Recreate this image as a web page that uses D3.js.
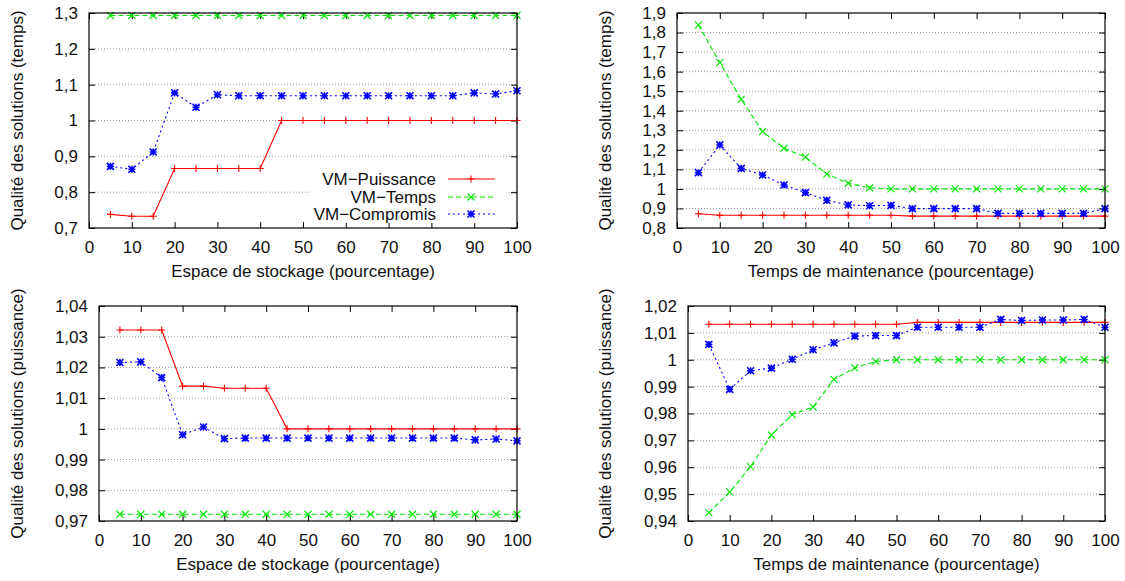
<!DOCTYPE html>
<html>
<head>
<meta charset="utf-8">
<script src="https://cdn.jsdelivr.net/npm/d3@7"></script>
<style>
  body { margin: 0; background: #fff; }
  svg { font-family: "Liberation Sans", Arial, sans-serif; }
  .tick text { fill: #111; }
  .grid line { stroke: #999; stroke-dasharray: 1,2; }
</style>
</head>
<body>
<svg id="chart" width="1125" height="581"></svg>
<script>
// x positions shared by all panels
const xValues = [5, 10, 15, 20, 25, 30, 35, 40, 45, 50, 55, 60, 65, 70, 75, 80, 85, 90, 95, 100];
const xTicks = [0, 10, 20, 30, 40, 50, 60, 70, 80, 90, 100];
const seriesNames = ["VM−Puissance", "VM−Temps", "VM−Compromis"];

// Panel 1: espace de stockage / temps
const storageTimeRed   = [0.738, 0.733, 0.733, 0.866, 0.866, 0.866, 0.866, 0.866, 1, 1, 1, 1, 1, 1, 1, 1, 1, 1, 1, 1];
const storageTimeGreen = [1.293, 1.293, 1.293, 1.293, 1.293, 1.293, 1.293, 1.293, 1.293, 1.293, 1.293, 1.293, 1.293, 1.293, 1.293, 1.293, 1.293, 1.293, 1.293, 1.293];
const storageTimeBlue  = [0.872, 0.864, 0.912, 1.077, 1.037, 1.072, 1.069, 1.069, 1.069, 1.069, 1.069, 1.069, 1.069, 1.069, 1.069, 1.069, 1.069, 1.077, 1.074, 1.083];
const storageTimeTicks = [0.7, 0.8, 0.9, 1.0, 1.1, 1.2, 1.3];

// Panel 2: temps de maintenance / temps
const maintTimeRed   = [0.873, 0.865, 0.865, 0.865, 0.865, 0.865, 0.865, 0.865, 0.865, 0.865, 0.861, 0.861, 0.861, 0.861, 0.861, 0.861, 0.861, 0.861, 0.861, 0.861];
const maintTimeGreen = [1.839, 1.646, 1.458, 1.293, 1.208, 1.163, 1.076, 1.029, 1.006, 1.0, 1.0, 1.0, 1.0, 1.0, 1.0, 1.0, 1.0, 1.0, 1.0, 1.0];
const maintTimeBlue  = [1.083, 1.225, 1.105, 1.071, 1.02, 0.981, 0.942, 0.918, 0.914, 0.916, 0.899, 0.899, 0.899, 0.899, 0.875, 0.875, 0.875, 0.875, 0.875, 0.899];
const maintTimeTicks = [0.8, 0.9, 1.0, 1.1, 1.2, 1.3, 1.4, 1.5, 1.6, 1.7, 1.8, 1.9];

// Panel 3: espace de stockage / puissance
const storagePowerRed   = [1.0322, 1.0322, 1.0322, 1.0139, 1.0139, 1.0132, 1.0132, 1.0132, 1, 1, 1, 1, 1, 1, 1, 1, 1, 1, 1, 1];
const storagePowerGreen = [0.9722, 0.9722, 0.9722, 0.9722, 0.9722, 0.9722, 0.9722, 0.9722, 0.9722, 0.9722, 0.9722, 0.9722, 0.9722, 0.9722, 0.9722, 0.9722, 0.9722, 0.9722, 0.9722, 0.9722];
const storagePowerBlue  = [1.0216, 1.0218, 1.0167, 0.9981, 1.0006, 0.9968, 0.997, 0.997, 0.997, 0.997, 0.997, 0.997, 0.997, 0.997, 0.997, 0.997, 0.997, 0.9964, 0.9967, 0.9961];
const storagePowerTicks = [0.97, 0.98, 0.99, 1.0, 1.01, 1.02, 1.03, 1.04];

// Panel 4: temps de maintenance / puissance
const maintPowerRed   = [1.0132, 1.0132, 1.0132, 1.0132, 1.0132, 1.0132, 1.0132, 1.0132, 1.0132, 1.0132, 1.0139, 1.0139, 1.0139, 1.0139, 1.0139, 1.0139, 1.0139, 1.0139, 1.0139, 1.0139];
const maintPowerGreen = [0.9431, 0.9508, 0.9602, 0.972, 0.9796, 0.9824, 0.9927, 0.997, 0.9994, 1.0, 1.0, 1.0, 1.0, 1.0, 1.0, 1.0, 1.0, 1.0, 1.0, 1.0];
const maintPowerBlue  = [1.0057, 0.989, 0.9959, 0.9969, 1.0002, 1.0037, 1.0063, 1.0088, 1.009, 1.009, 1.0121, 1.0121, 1.0121, 1.0121, 1.015, 1.0146, 1.0148, 1.0148, 1.015, 1.0121];
const maintPowerTicks = [0.94, 0.95, 0.96, 0.97, 0.98, 0.99, 1.0, 1.01, 1.02];

const styles = [
    { color: "#ff0000", dash: null, marker: "plus" },
    { color: "#00e600", dash: "5,3", marker: "cross" },
    { color: "#0000ff", dash: "2,3", marker: "star" }
];

const panels = [
    { box: [89, 13, 517, 228], yTicks: storageTimeTicks, series: [storageTimeRed, storageTimeGreen, storageTimeBlue],
      yLabel: "Qualité des solutions (temps)", xLabel: "Espace de stockage (pourcentage)", labelX: 23, legend: true },
    { box: [677, 13, 1105, 228], yTicks: maintTimeTicks, series: [maintTimeRed, maintTimeGreen, maintTimeBlue],
      yLabel: "Qualité des solutions (temps)", xLabel: "Temps de maintenance (pourcentage)", labelX: 611 },
    { box: [99, 306, 517, 521], yTicks: storagePowerTicks, series: [storagePowerRed, storagePowerGreen, storagePowerBlue],
      yLabel: "Qualité des solutions (puissance)", xLabel: "Espace de stockage (pourcentage)", labelX: 23 },
    { box: [688, 306, 1105, 521], yTicks: maintPowerTicks, series: [maintPowerRed, maintPowerGreen, maintPowerBlue],
      yLabel: "Qualité des solutions (puissance)", xLabel: "Temps de maintenance (pourcentage)", labelX: 611 }
];

const fontSize = 17;
const fmt = d => String(+d.toFixed(3)).replace(".", ",");

function drawMarker(g, type, cx, cy, color) {
    const s = 3.5;
    let d = "";
    if (type === "plus" || type === "star") d += `M${cx - s},${cy}H${cx + s}M${cx},${cy - s}V${cy + s}`;
    if (type === "cross" || type === "star") d += `M${cx - s},${cy - s}L${cx + s},${cy + s}M${cx - s},${cy + s}L${cx + s},${cy - s}`;
    g.append("path").attr("d", d).attr("stroke", color).attr("stroke-width", type === "star" ? 1.6 : 1.1).attr("fill", "none");
}

const svg = d3.select("#chart");

panels.forEach(p => {
    const [x0, y0, x1, y1] = p.box;
    const x = d3.scaleLinear().domain([0, 100]).range([x0, x1]);
    const y = d3.scaleLinear().domain(d3.extent(p.yTicks)).range([y1, y0]);
    const g = svg.append("g");

    // Horizontal dotted grid
    g.append("g").attr("class", "grid")
        .selectAll("line")
        .data(p.yTicks.slice(1, -1))
        .join("line")
        .attr("x1", x0).attr("x2", x1)
        .attr("y1", d => y(d)).attr("y2", d => y(d));

    // Axes with inward ticks, mirrored on top and right
    const left = g.append("g").attr("transform", `translate(${x0},0)`)
        .call(d3.axisLeft(y).tickValues(p.yTicks).tickFormat(fmt).tickSize(-6).tickPadding(11));
    const bottom = g.append("g").attr("transform", `translate(0,${y1})`)
        .call(d3.axisBottom(x).tickValues(xTicks).tickFormat(d => d).tickSize(-6).tickPadding(13));
    const right = g.append("g").attr("transform", `translate(${x1},0)`)
        .call(d3.axisRight(y).tickValues(p.yTicks).tickFormat("").tickSize(-6));
    const top = g.append("g").attr("transform", `translate(0,${y0})`)
        .call(d3.axisTop(x).tickValues(xTicks).tickFormat("").tickSize(-6));
    [left, bottom, right, top].forEach(a => {
        a.select(".domain").remove();
        a.selectAll(".tick line").attr("stroke", "#000");
    });
    left.selectAll(".tick text").attr("font-size", fontSize);
    bottom.selectAll(".tick text").attr("font-size", fontSize);

    // Legend background (opaque key box)
    if (p.legend) {
        g.append("rect").attr("x", 310).attr("y", 169).attr("width", 197).attr("height", 54).attr("fill", "#fff");
    }

    // Series lines and markers
    p.series.forEach((vals, i) => {
        const st = styles[i];
        const pts = xValues.map((xv, j) => [x(xv), y(vals[j])]);
        g.append("path")
            .attr("d", d3.line()(pts))
            .attr("fill", "none")
            .attr("stroke", st.color)
            .attr("stroke-width", 1.1)
            .attr("stroke-dasharray", st.dash);
        pts.forEach(([px, py]) => drawMarker(g, st.marker, px, py, st.color));
    });

    // Frame
    g.append("rect").attr("x", x0).attr("y", y0).attr("width", x1 - x0).attr("height", y1 - y0)
        .attr("fill", "none").attr("stroke", "#000").attr("stroke-width", 1.2);

    // Axis labels
    g.append("text")
        .attr("x", (x0 + x1) / 2).attr("y", y1 + 49)
        .attr("text-anchor", "middle").attr("font-size", fontSize).attr("fill", "#111")
        .text(p.xLabel);
    g.append("text")
        .attr("transform", `translate(${p.labelX},${(y0 + y1) / 2}) rotate(-90)`)
        .attr("text-anchor", "middle").attr("font-size", fontSize).attr("fill", "#111")
        .text(p.yLabel);

    // Legend entries
    if (p.legend) {
        const rows = [179, 197, 214];
        seriesNames.forEach((name, i) => {
            const st = styles[i];
            g.append("text").attr("x", 436).attr("y", rows[i] + 6)
                .attr("text-anchor", "end").attr("font-size", fontSize).attr("fill", "#111")
                .text(name);
            g.append("line").attr("x1", 448).attr("x2", 495).attr("y1", rows[i]).attr("y2", rows[i])
                .attr("stroke", st.color).attr("stroke-width", 1.1).attr("stroke-dasharray", st.dash);
            drawMarker(g, st.marker, 471, rows[i], st.color);
        });
    }
});
</script>
</body>
</html>
